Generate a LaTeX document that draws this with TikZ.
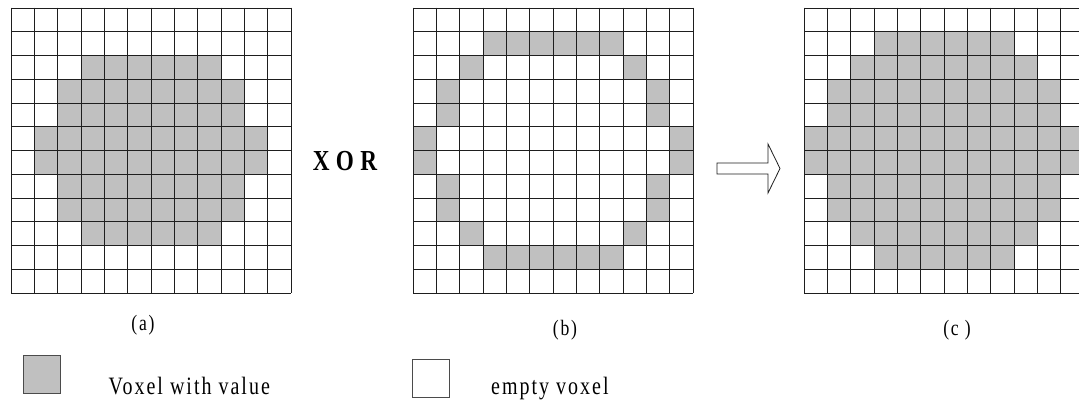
\documentclass[tikz,border=0pt]{standalone}
\usepackage{fontspec}
\setmainfont{Liberation Serif}[FakeStretch=0.8,LetterSpace=8]
\newfontfamily\opfont{Liberation Serif}[FakeStretch=0.8,LetterSpace=22]
\usepackage{xcolor}
\definecolor{cVoxel}{HTML}{C0C0C0}
\definecolor{cLine}{HTML}{1E1E1E}
\usepackage{tikz}
\usetikzlibrary{positioning}
\tikzset{
  cell-full/.style={fill=cVoxel},
  grid-line/.style={draw=cLine,line width=0.9pt,line cap=rect},
  node-label/.style={inner sep=0pt,font=\fontsize{22}{24}\selectfont},
  node-op/.style={inner sep=0pt,font=\opfont\fontsize{29}{32}\selectfont\bfseries},
  node-key/.style={draw=cLine!80,line width=1pt,minimum width=37pt,
    minimum height=38pt,inner sep=0pt},
  node-text/.style={inner sep=0pt,font=\fontsize{25}{28}\selectfont},
  arrow-block/.style={draw=cLine,line width=0.8pt,fill=white},
}
% one 12 x 12 voxel slice: #1 = left edge, #2 = filled runs row/first/last
\newcommand{\voxelgrid}[2]{%
  \foreach \r/\a/\b in {#2}
    \fill[cell-full] ({#1+\a*23.33},{395-\r*23.75}) rectangle ({#1+(\b+1)*23.33},{395-(\r+1)*23.75});
  \foreach \i in {0,...,12} {
    \draw[grid-line] ({#1+\i*23.33},110) -- ({#1+\i*23.33},395);
    \draw[grid-line] (#1,{110+\i*23.75}) -- ({#1+12*23.33},{110+\i*23.75});
  }
}

\begin{document}
\begin{tikzpicture}[x=1pt,y=1pt]
  \clip (0,0) rectangle (1079,403);
  \fill[white] (0,0) rectangle (1079,403);
  % (a)
  \voxelgrid{11}{2/3/8,3/2/9,4/2/9,5/1/10,6/1/10,7/2/9,8/2/9,9/3/8}
  % (b)
  \voxelgrid{413}{1/3/8,2/2/2,2/9/9,3/1/1,3/10/10,4/1/1,4/10/10,5/0/0,5/11/11,
    6/0/0,6/11/11,7/1/1,7/10/10,8/1/1,8/10/10,9/2/2,9/9/9,10/3/8}
  % (c)
  \voxelgrid{804}{1/3/8,2/2/9,3/1/10,4/1/10,5/0/11,6/0/11,7/1/10,8/1/10,9/2/9,10/3/8}

  \node[node-op] (op) at (345,242) {XOR};
  \draw[arrow-block] (717,240) -- (768,240) -- (768,259) -- (780,234.5)
    -- (768,210) -- (768,229) -- (717,229) -- cycle;

  \node[node-label] (la) at (143,78) {(a)};
  \node[node-label] (lb) at (565,73) {(b)};
  \node[node-label] (lc) at (957,73) {(c )};

  \node[node-key,fill=cVoxel] (key-full) at (41.5,28) {};
  \node[node-text,right=48pt of key-full.south east,anchor=base west] (key-full-text) {Voxel with value};
  \node[node-key,fill=white] (key-empty) at (431,24) {};
  \node[node-text,right=41pt of key-empty.south east,anchor=base west,yshift=4pt] (key-empty-text) {empty voxel};
\end{tikzpicture}
\end{document}
